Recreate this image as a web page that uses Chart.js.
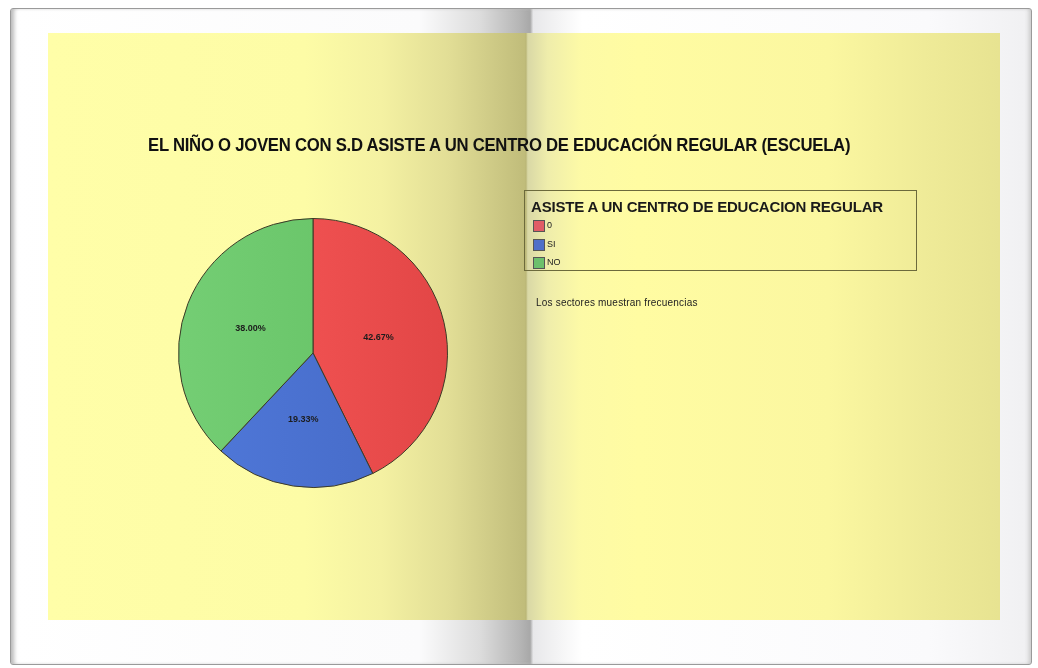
<!DOCTYPE html>
<html>
<head>
<meta charset="utf-8">
<script src="https://cdn.jsdelivr.net/npm/chart.js@4.4.0/dist/chart.umd.min.js"></script>
<style>
  body { margin: 0; width: 1038px; height: 668px; background: #fff; position: relative; overflow: hidden; font-family: "Liberation Sans", Arial, sans-serif; }
  #frame { position: absolute; left: 10px; top: 8px; width: 1020px; height: 655px; border: 1px solid #9a9a9a; border-radius: 3px;
    box-shadow: inset 5px 0 4px -2px #b8b8b8, inset -4px 0 4px -2px #c8c8c8;
    background: linear-gradient(to right, #ffffff 0%, #fbfbfc 40%, #dcdcdc 46%, #b4b4b4 50%, #a8a8a8 50.9%, #e8e8ea 51.2%, #ffffff 56%, #fafafc 90%, #f0f0f2 100%); }
  #page { position: absolute; left: 48px; top: 33px; width: 952px; height: 587px;
    background: linear-gradient(to right, #fffea8 0%, #fdfca6 27%, #f4f1a2 35%, #e2de96 42%, #cdc985 47%, #c0bc7a 50.1%, #bab676 50.2%, #d9d8a6 50.4%, #efedab 52.5%, #fdfaa6 56%, #fffca2 62%, #fbf7a0 82%, #efeb98 92%, #e7e391 100%); }
  #chartBox { position: absolute; left: 48px; top: 33px; width: 952px; height: 587px; }
  #title { position: absolute; left: 148px; top: 134px; font-weight: bold; font-size: 19px; color: #111; white-space: nowrap; letter-spacing: -0.3px; transform: scaleX(0.88); transform-origin: 0 0; }
  #legend { position: absolute; left: 524px; top: 190px; width: 391px; height: 79px; border: 1.5px solid #6c6a3c; }
  #legend .lt { position: absolute; left: 6px; top: 7px; font-weight: bold; font-size: 15px; color: #1a1a1a; white-space: nowrap; letter-spacing: -0.2px; transform: scaleX(1.0); transform-origin: 0 0; }
  #legend .it { position: absolute; left: 8px; font-size: 9px; color: #222; white-space: nowrap; }
  #legend .sw { display: inline-block; width: 10px; height: 10px; border: 1px solid #555; vertical-align: middle; margin-right: 2px; }
  #note { position: absolute; left: 536px; top: 297px; font-size: 10px; color: #222; white-space: nowrap; letter-spacing: 0.2px; }
</style>
</head>
<body>
<div id="frame"></div>
<div id="page"></div>
<div id="chartBox"><canvas id="pieChart" width="952" height="587"></canvas></div>
<div id="title"></div>
<div id="legend"><div class="lt"></div></div>
<div id="note">Los sectores muestran frecuencias</div>
<script>
// data (counts giving 42.67 / 19.33 / 38.00 %)
const categories = ['0', 'SI', 'NO'];
const counts = [64, 29, 57];
const sliceColors = [['#fb5a5a', '#e24646'], ['#5079da', '#4468c4'], ['#74ce74', '#62bf62']];
const legendColors = ['#e05c66', '#4f70c8', '#6cc06c'];
const chartTitle = 'EL NIÑO O JOVEN CON S.D ASISTE A UN CENTRO DE EDUCACIÓN REGULAR (ESCUELA)';
const legendTitle = 'ASISTE A UN CENTRO DE EDUCACION REGULAR';

document.getElementById('title').textContent = chartTitle;
const legendBox = document.getElementById('legend');
legendBox.querySelector('.lt').textContent = legendTitle;
categories.forEach((c, i) => {
    const item = document.createElement('div');
    item.className = 'it';
    item.style.top = (29 + i * 18.5) + 'px';
    item.innerHTML = `<span class="sw" style="background:${legendColors[i]}"></span>${c}`;
    legendBox.appendChild(item);
});

const total = counts.reduce((a, b) => a + b, 0);

// percentage labels inside the slices
const pctLabels = {
    id: 'pctLabels',
    afterDatasetsDraw(chart) {
        const ctx = chart.ctx;
        const meta = chart.getDatasetMeta(0);
        ctx.save();
        ctx.font = 'bold 9px "Liberation Sans", sans-serif';
        ctx.fillStyle = '#1c1c1c';
        ctx.textAlign = 'center';
        ctx.textBaseline = 'middle';
        meta.data.forEach((arc, i) => {
            const p = arc.getCenterPoint();
            ctx.fillText((counts[i] / total * 100).toFixed(2) + '%', p.x, p.y);
        });
        ctx.restore();
    }
};

const ctx = document.getElementById('pieChart').getContext('2d');
new Chart(ctx, {
    type: 'pie',
    data: {
        labels: categories,
        datasets: [{
            data: counts,
            backgroundColor: (c) => {
                const area = c.chart.chartArea;
                if (!area) return sliceColors[c.dataIndex][0];
                const g = c.chart.ctx.createLinearGradient(area.left, 0, area.right, 0);
                g.addColorStop(0, sliceColors[c.dataIndex][0]);
                g.addColorStop(1, sliceColors[c.dataIndex][1]);
                return g;
            },
            borderColor: '#3c3a26',
            borderWidth: 1,
            hoverOffset: 0
        }]
    },
    options: {
        responsive: false,
        animation: false,
        layout: { padding: { left: 130, right: 552, top: 180, bottom: 127 } },
        plugins: {
            legend: { display: false },
            tooltip: { enabled: false },
            title: { display: false }
        }
    },
    plugins: [pctLabels]
});
</script>
</body>
</html>
